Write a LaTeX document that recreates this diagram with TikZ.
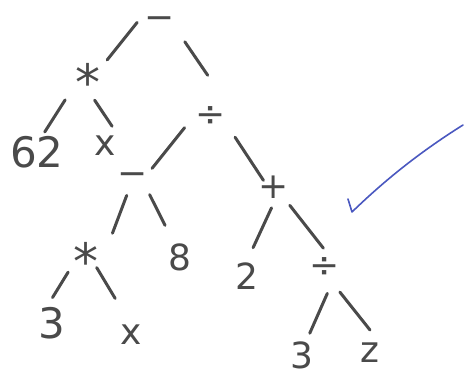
\documentclass[tikz,border=0pt]{standalone}
\usepackage{fontspec}
\setmainfont{DejaVu Sans}
\usetikzlibrary{calc}
\definecolor{ink}{HTML}{4A4A4A}
\definecolor{tick}{HTML}{4A58C0}
\tikzset{
  sym/.style={text=ink, inner sep=0pt, text height=26pt, text depth=0pt, font=\fontsize{36}{36}\selectfont},
  big/.style={text=ink, inner sep=0pt, text height=30pt, text depth=0pt, font=\fontsize{42}{42}\selectfont},
  star/.style={text=ink, inner sep=0pt, text height=36pt, text depth=0pt, font=\fontsize{50}{50}\selectfont},
  edge/.style={draw=ink, line width=3pt, line cap=round},
}
\newcommand{\lowstar}{\raisebox{-0.09em}{*}}
\begin{document}
\begin{tikzpicture}[x=1pt,y=-1pt]
\useasboundingbox (0,0) rectangle (467,380);
\fill[white] (0,0) rectangle (467,380);
% nodes
\node[sym]  (r)   at (160,17)  {−};
\node[star] (m1)  at (88,78)   {\lowstar};
\node[sym]  (d1)  at (211,113) {÷};
\node[big]  (n62) at (37,152)  {62};
\node[sym]  (x1)  at (105,142) {x};
\node[sym]  (s1)  at (133,172) {−};
\node[sym]  (p)   at (274,185) {+};
\node[star] (m2)  at (86,257)  {\lowstar};
\node[sym]  (e8)  at (180,257) {8};
\node[sym]  (t2)  at (247,276) {2};
\node[sym]  (d2)  at (325,264) {÷};
\node[big]  (t3)  at (52,323)  {3};
\node[sym]  (x2)  at (131,331) {x};
\node[sym]  (t3b) at (302,355) {3};
\node[sym]  (z)   at (370,349) {z};
% edges
\draw[edge] ($(r)!0.22!(m1)+(-7,-8)$) -- ($(r)!0.72!(m1)+(-1,-1)$);
\draw[edge] ($(r)!0.31!(d1)+(9,-5)$) -- ($(r)!0.68!(d1)+(13,-7)$);
\draw[edge] ($(m1)!0.35!(n62)+(-5,-4)$) -- ($(m1)!0.77!(n62)+(-4,-3)$);
\draw[edge] ($(m1)!0.33!(x1)+(1,1)$) -- ($(m1)!0.77!(x1)+(11,-1)$);
\draw[edge] ($(d1)!0.30!(s1)+(-3,-3)$) -- ($(d1)!0.82!(s1)+(5,7)$);
\draw[edge] ($(d1)!0.35!(p)+(2,-1)$) -- ($(d1)!0.88!(p)+(-3,4)$);
\draw[edge] ($(p)!0.24!(t2)+(4,1)$) -- ($(p)!0.70!(t2)+(-2,-1)$);
\draw[edge] ($(p)!0.27!(d2)+(2,-1)$) -- ($(p)!0.85!(d2)+(6,-4)$);
\draw[edge] ($(s1)!0.24!(m2)+(5,3)$) -- ($(s1)!0.65!(m2)+(10,6)$);
\draw[edge] ($(s1)!0.29!(e8)+(3,-2)$) -- ($(s1)!0.64!(e8)+(2,-1)$);
\draw[edge] ($(m2)!0.29!(t3)+(-8,-4)$) -- ($(m2)!0.69!(t3)+(-10,-5)$);
\draw[edge] ($(m2)!0.17!(x2)+(3,-2)$) -- ($(m2)!0.56!(x2)+(4,0)$);
\draw[edge] ($(d2)!0.29!(t3b)+(9,3)$) -- ($(d2)!0.75!(t3b)+(2,1)$);
\draw[edge] ($(d2)!0.33!(z)+(0,0)$) -- ($(d2)!0.80!(z)+(9,-2)$);
% tick
\draw[tick, line width=1.6pt, line cap=round, line join=round]
  (348,199) -- (352,212) .. controls (385,180) and (420,152) .. (463,125);
\end{tikzpicture}
\end{document}
